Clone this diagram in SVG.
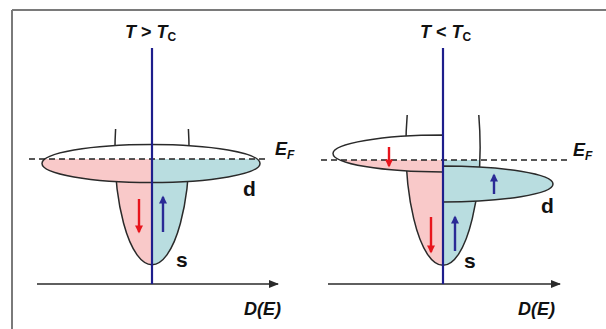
<svg xmlns="http://www.w3.org/2000/svg" width="606" height="329" viewBox="0 0 606 329">
<style>
.out{fill:none;stroke:#2a2a2a;stroke-width:1.5}
.pink{fill:#f9c9c9}
.blue{fill:#b9dde0}
.vline{stroke:#1e1e8c;stroke-width:2.2}
.axis{stroke:#2a2a2a;stroke-width:1.6}
.ef{stroke:#222;stroke-width:1.5;stroke-dasharray:6,4}
.lbl{font-family:"Liberation Sans",Arial,sans-serif;font-weight:bold;fill:#111}
.it{font-style:italic}
.ra{stroke:#e8141c;stroke-width:2.4}
.ba{stroke:#2a2a96;stroke-width:2.4}
</style>
<defs>
<marker id="ax" viewBox="0 0 10 10" refX="9" refY="5" markerWidth="10" markerHeight="10" markerUnits="userSpaceOnUse" orient="auto"><path d="M0,1 L10,5 L0,9 Z" fill="#2a2a2a"/></marker>
<marker id="rh" viewBox="0 0 10 10" refX="8" refY="5" markerWidth="9" markerHeight="8" markerUnits="userSpaceOnUse" orient="auto"><path d="M0,0 L10,5 L0,10 Z" fill="#e8141c"/></marker>
<marker id="bh" viewBox="0 0 10 10" refX="8" refY="5" markerWidth="9" markerHeight="8" markerUnits="userSpaceOnUse" orient="auto"><path d="M0,0 L10,5 L0,10 Z" fill="#2a2a96"/></marker>
<clipPath id="lL"><rect x="0" y="159" width="152" height="170"/></clipPath>
<clipPath id="lR"><rect x="152" y="159" width="200" height="170"/></clipPath>
<clipPath id="rL"><rect x="303" y="160" width="140" height="170"/></clipPath>
<clipPath id="rR"><rect x="443" y="160" width="163" height="170"/></clipPath>
</defs>

<g id="frame">
<line x1="12" y1="10" x2="606" y2="10" stroke="#7a7a7a" stroke-width="2"/>
<line x1="12" y1="10" x2="12" y2="329" stroke="#7a7a7a" stroke-width="2"/>
</g>

<g id="left-panel">
<g id="left-s-band">
<path d="M115.6,129 A37,115 0 1 0 188.4,129 Z" class="pink" clip-path="url(#lL)"/>
<path d="M115.6,129 A37,115 0 1 0 188.4,129 Z" class="blue" clip-path="url(#lR)"/>
<path d="M115.6,129 A37,115 0 1 0 188.4,129" class="out"/>
</g>
<g id="left-d-band">
<ellipse cx="151" cy="163.5" rx="109" ry="19" fill="#fff"/>
<ellipse cx="151" cy="163.5" rx="109" ry="19" class="pink" clip-path="url(#lL)"/>
<ellipse cx="151" cy="163.5" rx="109" ry="19" class="blue" clip-path="url(#lR)"/>
<ellipse cx="151" cy="163.5" rx="109" ry="19" class="out"/>
</g>
</g>

<g id="right-panel">
<g id="right-s-band">
<path d="M407.2,115 A37,120 0 1 0 478.8,115 Z" class="pink" clip-path="url(#rL)"/>
<path d="M407.2,115 A37,120 0 1 0 478.8,115 Z" class="blue" clip-path="url(#rR)"/>
<path d="M407.2,115 A37,120 0 1 0 478.8,115" class="out"/>
</g>
<g id="right-d-down">
<path d="M443,135 A110,18.5 0 0 0 443,172 Z" fill="#fff"/>
<path d="M443,135 A110,18.5 0 0 0 443,172 Z" class="pink" clip-path="url(#rL)"/>
<path d="M443,135 A110,18.5 0 0 0 443,172 Z" class="out"/>
</g>
<g id="right-d-up">
<path d="M443,166 A110,18 0 0 1 443,202 Z" class="blue"/>
<path d="M443,166 A110,18 0 0 1 443,202 Z" class="out"/>
</g>
</g>

<g id="connectors">
<line x1="37" y1="284" x2="278" y2="284" class="axis" marker-end="url(#ax)"/>
<line x1="328" y1="284" x2="560" y2="284" class="axis" marker-end="url(#ax)"/>
<line x1="29" y1="159" x2="268" y2="159" class="ef"/>
<line x1="321" y1="160" x2="570" y2="160" class="ef"/>
<line x1="152" y1="48" x2="152" y2="284" class="vline"/>
<line x1="443" y1="48" x2="443" y2="284" class="vline"/>
<line x1="139" y1="199" x2="139" y2="232" class="ra" marker-end="url(#rh)"/>
<line x1="163" y1="232" x2="163" y2="197" class="ba" marker-end="url(#bh)"/>
<line x1="389" y1="147" x2="389" y2="166" class="ra" marker-end="url(#rh)"/>
<line x1="494" y1="194" x2="494" y2="175" class="ba" marker-end="url(#bh)"/>
<line x1="431" y1="217" x2="431" y2="252" class="ra" marker-end="url(#rh)"/>
<line x1="455" y1="251" x2="455" y2="217" class="ba" marker-end="url(#bh)"/>
</g>

<g id="labels">
<text x="125" y="38" class="lbl" font-size="18"><tspan class="it">T</tspan> &gt; <tspan class="it">T</tspan><tspan font-size="12" dy="3">C</tspan></text>
<text x="420" y="38" class="lbl" font-size="18"><tspan class="it">T</tspan> &lt; <tspan class="it">T</tspan><tspan font-size="12" dy="3">C</tspan></text>
<text x="275" y="155" class="lbl it" font-size="18">E<tspan font-size="12" dy="4">F</tspan></text>
<text x="573" y="156" class="lbl it" font-size="18">E<tspan font-size="12" dy="4">F</tspan></text>
<text x="243" y="196" class="lbl" font-size="21">d</text>
<text x="541" y="213" class="lbl" font-size="21">d</text>
<text x="176" y="267" class="lbl" font-size="21">s</text>
<text x="464" y="268" class="lbl" font-size="21">s</text>
<text x="244" y="315" class="lbl it" font-size="18">D(E)</text>
<text x="518" y="315" class="lbl it" font-size="18">D(E)</text>
</g>
</svg>
